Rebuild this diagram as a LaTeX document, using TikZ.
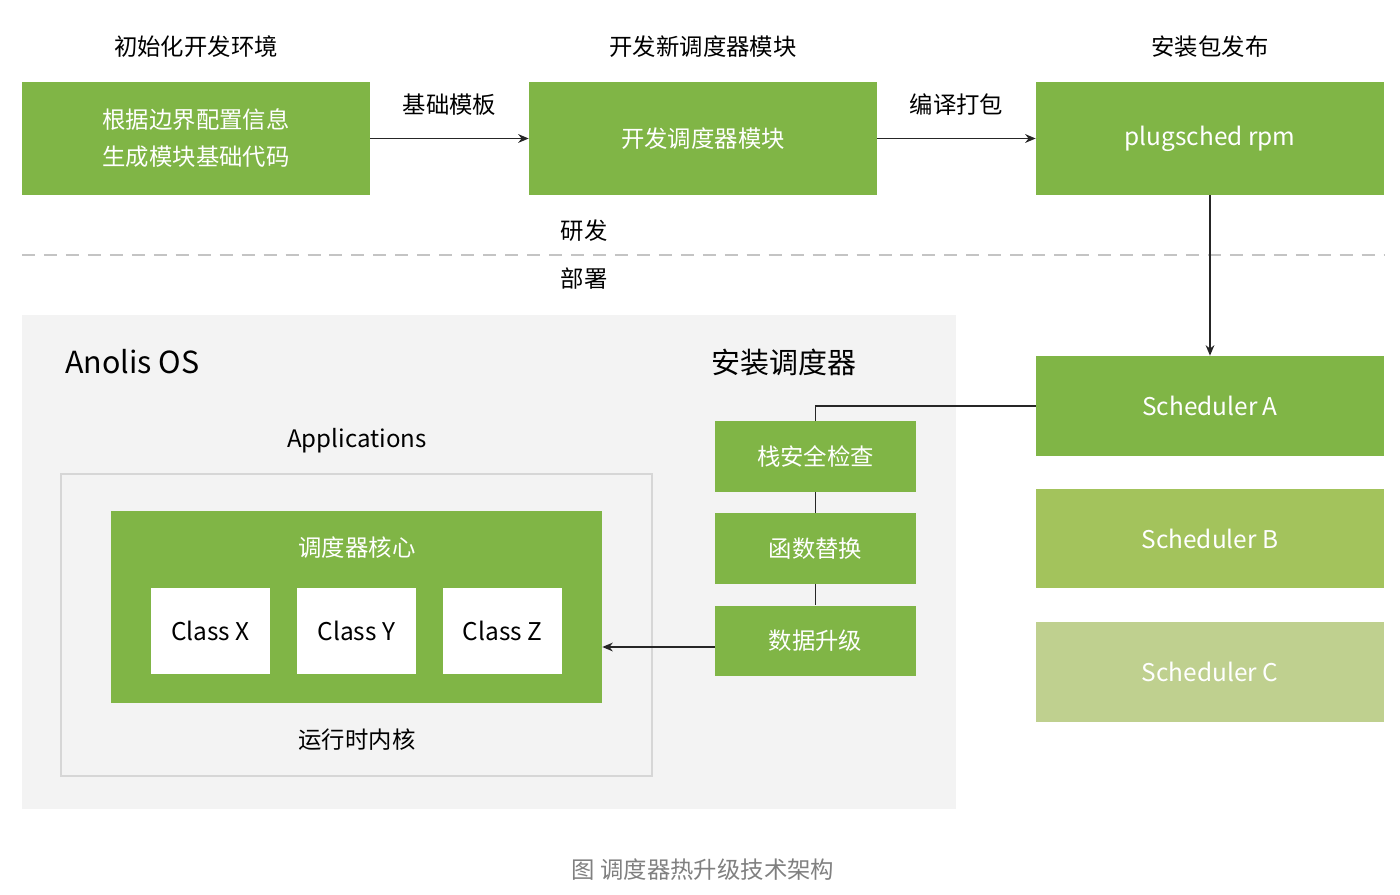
\documentclass[tikz,border=0pt]{standalone}
\usepackage{fontspec}
\setmainfont{Noto Sans CJK SC}
\usetikzlibrary{arrows.meta,positioning,calc}
\definecolor{cG}{HTML}{80B546}
\definecolor{cGb}{HTML}{A3C35C}
\definecolor{cGc}{HTML}{BFD08F}
\definecolor{cBg}{HTML}{F3F3F3}
\definecolor{cLn}{HTML}{D6D6D6}
\definecolor{cDash}{HTML}{C4C4C4}
\definecolor{cCap}{HTML}{808080}

\begin{document}
\begin{tikzpicture}[x=0.02cm,y=-0.02cm,
  txt/.style={font=\fontsize{13.3}{21}\selectfont,align=center,inner sep=0pt},
  lat/.style={font=\fontsize{13.9}{21}\selectfont},
  big/.style={font=\fontsize{16.5}{20}\selectfont,inner sep=0pt},
  gbox/.style={txt,fill=cG,text=white},
  wide/.style={minimum width=6.96cm,minimum height=2.26cm},
  stepbox/.style={gbox,minimum width=4.02cm,minimum height=1.42cm},
  schbox/.style={txt,lat,text=white,minimum width=6.96cm,minimum height=2cm},
  clsbox/.style={txt,lat,fill=white,minimum width=2.38cm,minimum height=1.72cm},
  link/.style={line width=0.75pt,draw=black!85},
  arr/.style={link,-{Stealth[length=6pt,width=5pt]}}]
  \useasboundingbox (0,0) rectangle (1400,895);
  % development row
  \node[gbox,wide] (init) at (196,138.5){根据边界配置信息\\生成模块基础代码};
  \node[gbox,wide] (dev) at (703,138.5){开发调度器模块};
  \node[gbox,wide,lat] (rpm) at (1210,138.5){plugsched rpm};
  \node[txt] at (196,47){初始化开发环境};
  \node[txt] at (703,47){开发新调度器模块};
  \node[txt] at (1210,47){安装包发布};
  \draw[arr] (init) -- node[txt,above=13pt]{基础模板} (dev);
  \draw[arr] (dev) -- node[txt,above=13pt]{编译打包} (rpm);
  % split
  \draw[cDash,line width=0.75pt,dash pattern=on 7.4pt off 5.1pt] (22,255) -- (1384,255);
  \node[txt] at (584,231){研发};
  \node[txt] at (584,279){部署};
  % deployment: Anolis OS
  \fill[cBg] (22,315) rectangle (956,809);
  \draw[cLn,line width=0.8pt] (61,474) rectangle (652,776);
  \node[big,font=\fontsize{17.3}{20}\selectfont,anchor=west] at (65,362){Anolis OS};
  \node[big] at (784,362){安装调度器};
  \node[txt,font=\fontsize{13.7}{20}\selectfont] at (357,441){Applications};
  \node[gbox,minimum width=9.82cm,minimum height=3.84cm] (core) at (356.5,607){};
  \node[txt,text=white] at (357,548){调度器核心};
  \foreach \n/\x in {X/210.5,Y/356.5,Z/502.5}{
    \node[clsbox] (c\n) at (\x,631){Class \n};
  }
  \node[txt] at (357,740){运行时内核};
  % install steps
  \node[stepbox] (s1) at (815.5,456.5){栈安全检查};
  \node[stepbox] (s2) at (815.5,548.5){函数替换};
  \node[stepbox] (s3) at (815.5,641){数据升级};
  % schedulers
  \node[schbox,fill=cG] (sa) at (1210,406){Scheduler A};
  \node[schbox,fill=cGb] (sb) at (1210,538.5){Scheduler B};
  \node[schbox,fill=cGc] (sc) at (1210,672){Scheduler C};
  \draw[arr] (rpm) -- (sa);
  \draw[link] (sa.west) -| (s1.north);
  \draw[link] (s1) -- (s2);
  \draw[link] (s2) -- (s3);
  \coordinate (s3in) at ([yshift=-0.12cm]s3.west);
  \draw[arr] (s3in) -- (core.east |- s3in);
  \node[txt,text=cCap] at (703,870){图 调度器热升级技术架构};
\end{tikzpicture}
\end{document}
